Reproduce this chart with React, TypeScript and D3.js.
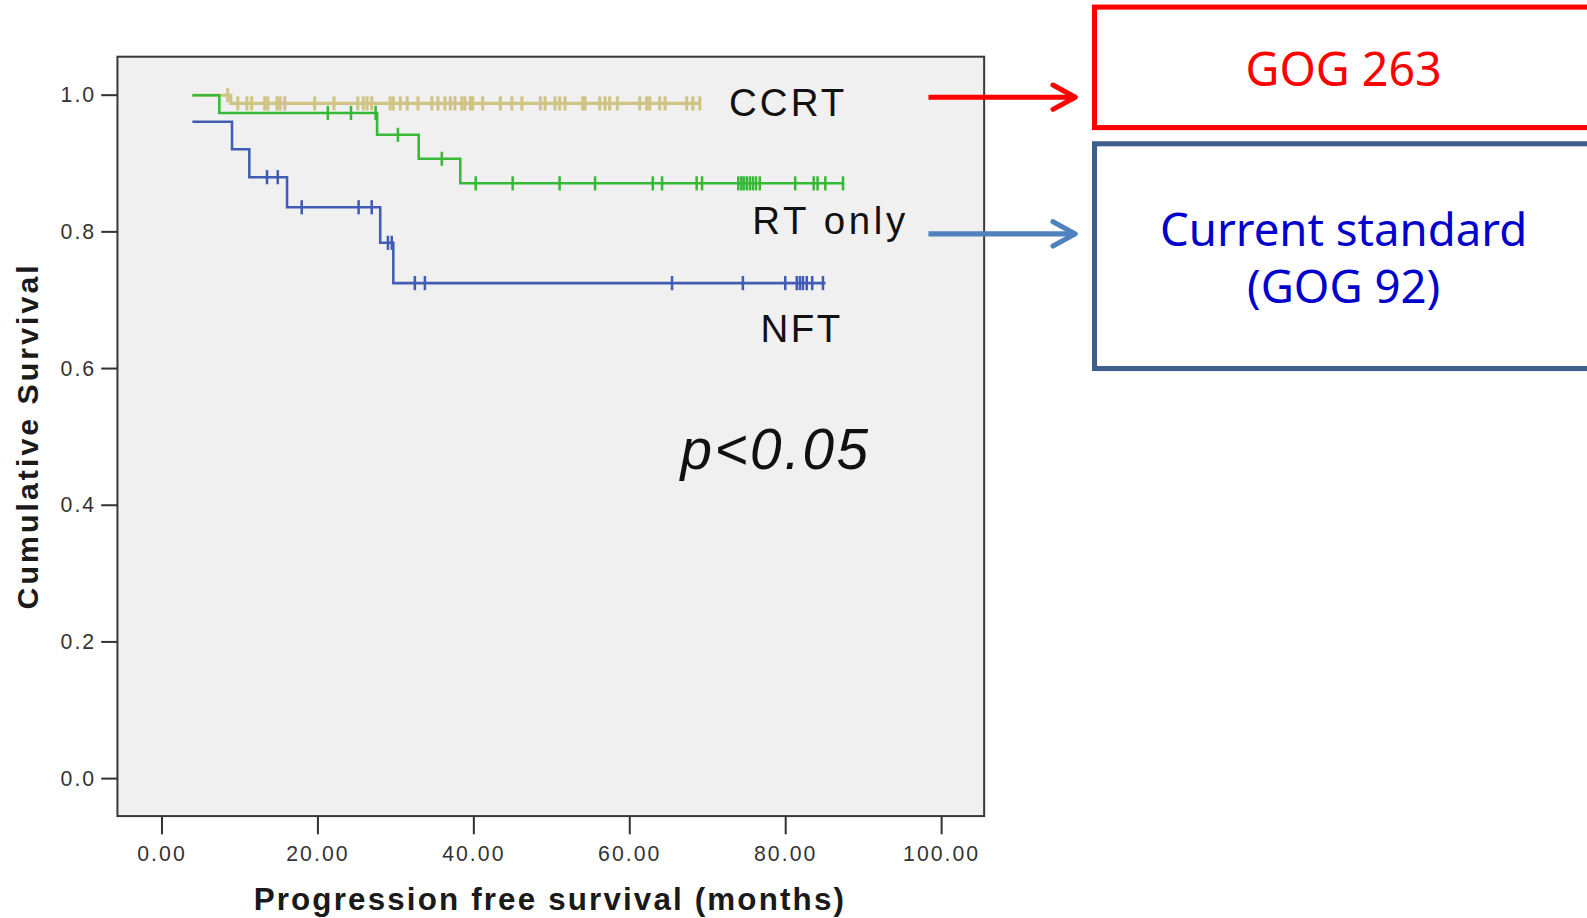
import React from "react";
import * as d3 from "d3";

// x ticks (months) and y ticks (cumulative survival)
const xTicks = [0, 20, 40, 60, 80, 100];
const yTicks = [0, 0.2, 0.4, 0.6, 0.8, 1.0];

// CCRT
const ccrtTimes = [3.9, 8.83];
const ccrtSurv = [1.0, 0.988];
const ccrtEnd = 68.98;
const ccrtCensor = [
  8.43, 9.72, 10.9, 11.5, 13.18, 13.57, 14.76, 15.15, 15.74, 19.59, 22.06,
  25.12, 25.82, 26.31, 26.9, 29.27, 29.67, 30.56, 31.45, 32.83, 34.61, 35.4,
  36.29, 36.98, 37.57, 38.46, 38.85, 39.55, 39.84, 41.13, 43.4, 44.88, 46.16,
  48.53, 49.13, 50.41, 51.0, 51.69, 53.96, 54.26, 56.14, 56.83, 57.42, 58.41,
  61.27, 62.16, 62.56, 63.84, 64.53, 67.3, 68.09, 68.98,
];

// RT only
const rtTimes = [3.9, 7.35, 27.59, 32.93, 38.26];
const rtSurv = [1.0, 0.974, 0.942, 0.907, 0.871];
const rtEnd = 87.5;
const rtCensor = [
  21.27, 24.24, 27.4, 30.26, 35.89, 40.24, 44.98, 51.0, 55.55, 62.95, 64.14,
  68.58, 69.27, 73.92, 74.31, 74.61, 75.0, 75.4, 75.79, 76.19, 76.68, 81.22,
  83.59, 84.09, 85.08, 87.35,
];

// NFT
const nftTimes = [3.9, 8.98, 11.2, 16.04, 27.99, 29.67];
const nftSurv = [0.961, 0.921, 0.88, 0.836, 0.784, 0.725];
const nftEnd = 85.1;
const nftCensor = [
  13.47, 14.85, 17.92, 25.22, 26.9, 28.98, 29.47, 32.43, 33.72, 65.42, 74.51,
  79.94, 81.42, 81.82, 82.21, 82.7, 83.4, 84.78,
];

const series = [
  { name: "CCRT", times: ccrtTimes, surv: ccrtSurv, end: ccrtEnd, censor: ccrtCensor, color: "#d0c485", width: 3 },
  { name: "RT only", times: rtTimes, surv: rtSurv, end: rtEnd, censor: rtCensor, color: "#36b936", width: 2.5 },
  { name: "NFT", times: nftTimes, surv: nftSurv, end: nftEnd, censor: nftCensor, color: "#405cb4", width: 2.5 },
];

const W = 1587;
const H = 918;
const k = 1.0125; // overall scale of the drawing
const plot = { left: 116, right: 972, top: 56, bottom: 806 };

const x = d3.scaleLinear().domain([0, 100]).range([160, 930]);
const y = d3.scaleLinear().domain([0, 1]).range([769, 94]);

const stepLine = d3
  .line<[number, number]>()
  .x((d) => x(d[0]))
  .y((d) => y(d[1]))
  .curve(d3.curveStepAfter);

// survival level at time t
const survAt = (times: number[], surv: number[], t: number) => {
  const i = d3.bisectRight(times, t) - 1;
  return surv[Math.max(0, i)];
};

const tickFont = "'Liberation Sans', Arial, sans-serif";

export default function App() {
  return (
    <svg
      width={W}
      height={H}
      style={{ position: "absolute", left: 0, top: 0, background: "#fff" }}
    >
      <g transform={`scale(${k})`}>
        {/* plot area */}
        <rect
          x={plot.left}
          y={plot.top}
          width={plot.right - plot.left}
          height={plot.bottom - plot.top}
          fill="#f0f0f0"
          stroke="#3a3a3a"
          strokeWidth={2}
        />

        {/* y axis */}
        {yTicks.map((t) => (
          <g key={t}>
            <line x1={100} x2={plot.left} y1={y(t)} y2={y(t)} stroke="#333" strokeWidth={2} />
            <text
              x={95}
              y={y(t) + 7}
              textAnchor="end"
              fontFamily={tickFont}
              fontSize={21}
              letterSpacing={2}
              fill="#333"
            >
              {t.toFixed(1)}
            </text>
          </g>
        ))}

        {/* x axis */}
        {xTicks.map((t) => (
          <g key={t}>
            <line x1={x(t)} x2={x(t)} y1={plot.bottom} y2={plot.bottom + 18} stroke="#333" strokeWidth={2} />
            <text
              x={x(t)}
              y={850}
              textAnchor="middle"
              fontFamily={tickFont}
              fontSize={21}
              letterSpacing={2}
              fill="#333"
            >
              {t.toFixed(2)}
            </text>
          </g>
        ))}

        <text
          x={542}
          y={899}
          textAnchor="middle"
          fontFamily={tickFont}
          fontWeight="bold"
          fontSize={31}
          textLength={583}
          lengthAdjust="spacing"
          fill="#1a1a1a"
        >
          Progression free survival (months)
        </text>
        <text
          transform="translate(38,432) rotate(-90)"
          textAnchor="middle"
          fontFamily={tickFont}
          fontWeight="bold"
          fontSize={30}
          textLength={340}
          lengthAdjust="spacing"
          fill="#1a1a1a"
        >
          Cumulative Survival
        </text>

        {/* curves */}
        {series.map((s) => {
          const pts: [number, number][] = s.times.map((t, i) => [t, s.surv[i]] as [number, number]);
          pts.push([s.end, s.surv[s.surv.length - 1]]);
          return (
            <g key={s.name}>
              <path d={stepLine(pts) ?? ""} fill="none" stroke={s.color} strokeWidth={s.width} />
              {s.censor.map((c, i) => {
                const yy = y(survAt(s.times, s.surv, c));
                return (
                  <line
                    key={i}
                    x1={x(c)}
                    x2={x(c)}
                    y1={yy - 7}
                    y2={yy + 7}
                    stroke={s.color}
                    strokeWidth={s.width}
                  />
                );
              })}
            </g>
          );
        })}

        {/* curve labels */}
        <g fontFamily={tickFont} fontSize={38} fill="#111">
          <text x={720} y={115} letterSpacing={3}>CCRT</text>
          <text x={743} y={231} letterSpacing={3.6}>RT only</text>
          <text x={751} y={338} letterSpacing={2.5}>NFT</text>
        </g>
        <text
          x={672}
          y={463}
          fontFamily={tickFont}
          fontStyle="italic"
          fontSize={56}
          letterSpacing={2.5}
          fill="#111"
        >
          p&lt;0.05
        </text>

        {/* arrows */}
        <line x1={917} x2={1062} y1={96} y2={96} stroke="#ff0000" strokeWidth={5} />
        <polyline
          points="1040,84 1062,96 1040,108"
          fill="none"
          stroke="#ff0000"
          strokeWidth={5}
          strokeLinecap="round"
          strokeLinejoin="round"
        />
        <line x1={917} x2={1062} y1={231} y2={231} stroke="#4f81bd" strokeWidth={5} />
        <polyline
          points="1040,219 1062,231 1040,243"
          fill="none"
          stroke="#4f81bd"
          strokeWidth={5}
          strokeLinecap="round"
          strokeLinejoin="round"
        />

        {/* boxes */}
        <rect x={1081} y={7} width={520} height={119} fill="#fff" stroke="#ff0000" strokeWidth={5} />
        <text
          x={1327}
          y={85}
          textAnchor="middle"
          fontFamily="'Noto Sans', sans-serif"
          fontSize={46}
          fill="#ff0000"
        >
          GOG 263
        </text>
        <rect x={1081} y={142} width={520} height={222} fill="#fff" stroke="#3c5f8c" strokeWidth={5} />
        <text
          x={1327}
          y={243}
          textAnchor="middle"
          fontFamily="'Noto Sans', sans-serif"
          fontSize={45}
          fill="#0000cc"
        >
          Current standard
        </text>
        <text
          x={1327}
          y={299}
          textAnchor="middle"
          fontFamily="'Noto Sans', sans-serif"
          fontSize={45}
          fill="#0000cc"
        >
          (GOG 92)
        </text>
      </g>
    </svg>
  );
}
